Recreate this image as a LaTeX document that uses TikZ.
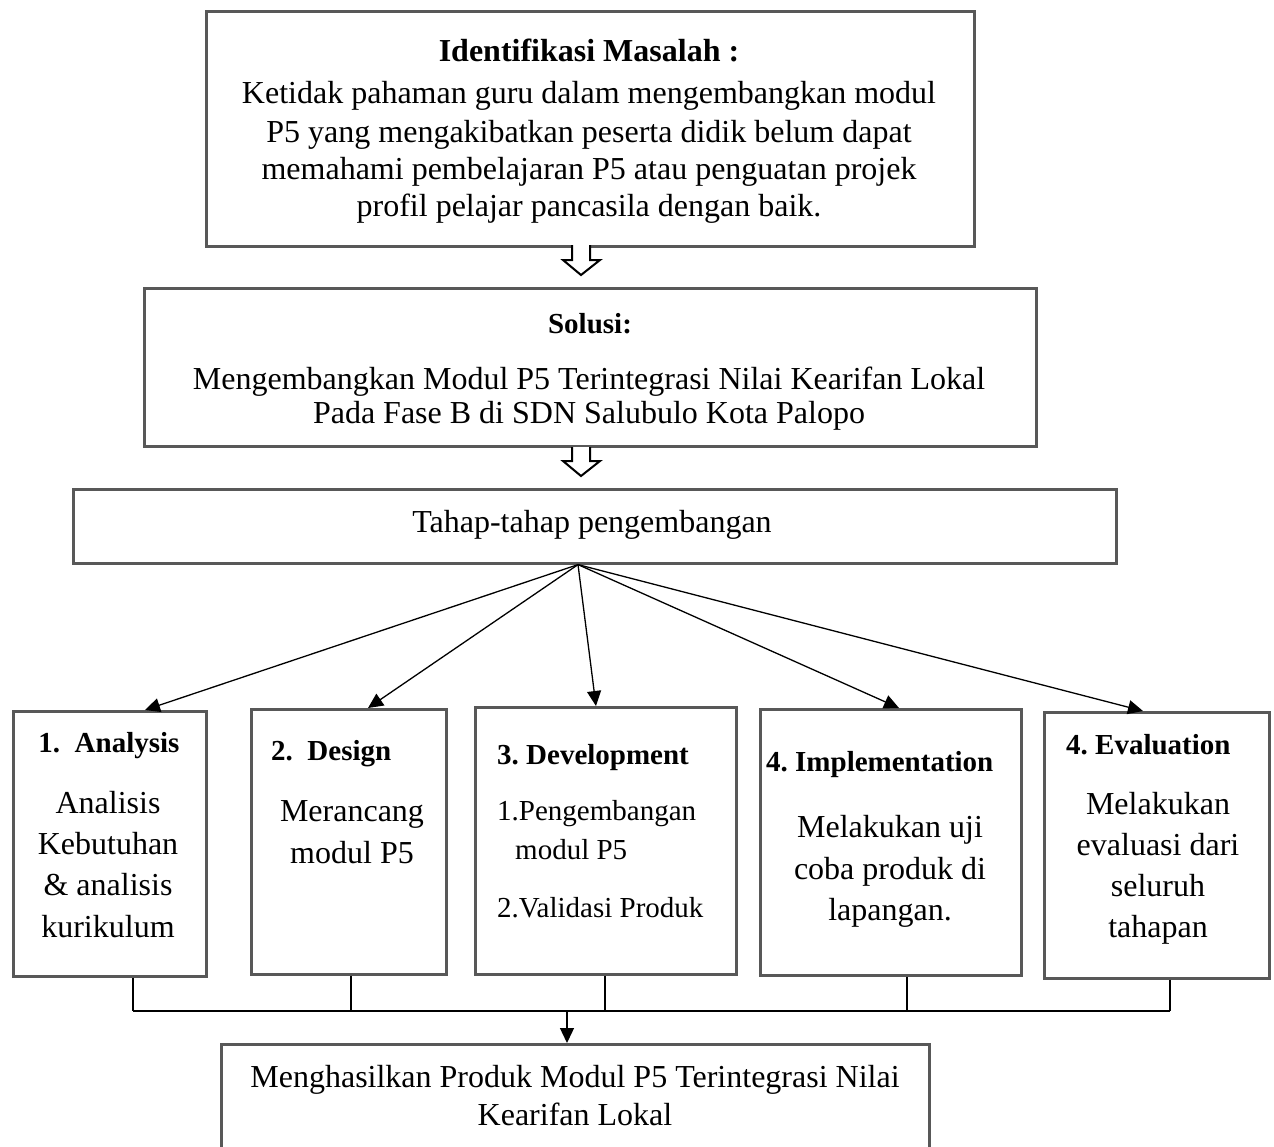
\documentclass[tikz,border=0pt]{standalone}
\usepackage{fontspec}
\setmainfont{Liberation Serif}
\usetikzlibrary{arrows.meta}
\definecolor{boxgray}{RGB}{88,88,88}
\frenchspacing
\begin{document}
\begin{tikzpicture}[x=1pt,y=-1pt,
  box/.style={draw=boxgray, line width=2.6pt, inner sep=0pt, anchor=north west},
  txt/.style={anchor=base, inner sep=0pt, font=\fontsize{32}{38}\selectfont},
  txtl/.style={anchor=base west, inner sep=0pt, font=\fontsize{32}{38}\selectfont},
  head/.style={anchor=base west, inner sep=0pt, font=\fontsize{29}{34}\selectfont\bfseries},
  headc/.style={anchor=base, inner sep=0pt, font=\fontsize{29}{34}\selectfont\bfseries},
  small/.style={anchor=base west, inner sep=0pt, font=\fontsize{29}{34}\selectfont},
  arr/.style={draw=black, line width=1.3pt, -{Triangle[length=15pt,width=14pt]}},
  link/.style={draw=black, line width=1.3pt},
  hollow/.style={draw=black, line width=2pt, fill=white, line join=miter}
]
\clip (0,0) rectangle (1274,1146);
\useasboundingbox (0,0) rectangle (1274,1146);
\fill[white] (0,0) rectangle (1274,1146);

% boxes
\node[box, minimum width=768, minimum height=235] (top) at (205,10) {};
\node[box, minimum width=892, minimum height=158] (sol) at (143,287) {};
\node[box, minimum width=1043, minimum height=74] (tahap) at (72,488) {};
\node[box, minimum width=193, minimum height=265] (a1) at (12,710) {};
\node[box, minimum width=195, minimum height=265] (a2) at (250,708) {};
\node[box, minimum width=261, minimum height=267] (a3) at (474,706) {};
\node[box, minimum width=261, minimum height=266] (a4) at (759,708) {};
\node[box, minimum width=225, minimum height=266] (a5) at (1043,711) {};
\node[box, minimum width=708, minimum height=140] (res) at (220,1043) {};

% hollow arrows
\draw[hollow] (572,245) -- (572,260) -- (563,260) -- (581,275) -- (600,260) -- (590,260) -- (590,245);
\draw[hollow] (572,447) -- (572,461) -- (563,461) -- (581,476) -- (600,461) -- (590,461) -- (590,447);

% top text
\node[txt] (t0) at (589,61) {\bfseries Identifikasi Masalah :};
\node[txt] (t1) at (589,103) {Ketidak pahaman guru dalam mengembangkan modul};
\node[txt] (t2) at (589,142) {P5 yang mengakibatkan peserta didik belum dapat};
\node[txt] (t3) at (589,179) {memahami pembelajaran P5 atau penguatan projek};
\node[txt] (t4) at (589,216) {profil pelajar pancasila dengan baik.};

\node[headc] (s0) at (590,333) {Solusi:};
\node[txt] (s1) at (589,389) {Mengembangkan Modul P5 Terintegrasi Nilai Kearifan Lokal};
\node[txt] (s2) at (589,423) {Pada Fase B di SDN Salubulo Kota Palopo};

\node[txt] (h0) at (592,532) {Tahap-tahap pengembangan};

% fan arrows
\coordinate (fan) at ([xshift=506pt]tahap.south west);
\draw[arr] (fan) -- ([xshift=133pt]a1.north west);
\draw[arr] (fan) -- ([xshift=118pt]a2.north west);
\draw[arr] (fan) -- ([xshift=122pt]a3.north west);
\draw[arr] (fan) -- ([xshift=140pt]a4.north west);
\draw[arr] (fan) -- ([xshift=100pt]a5.north west);

% Analysis
\node[headc] (a1h) at (109,752) {1.\ \ Analysis};
\node[txt] (a1b1) at (108,813) {Analisis};
\node[txt] (a1b2) at (108,854) {Kebutuhan};
\node[txt] (a1b3) at (108,895) {\& analisis};
\node[txt] (a1b4) at (108,937) {kurikulum};

% Design
\node[head] (a2h) at (271,760) {2.\ \ Design};
\node[txt] (a2b1) at (352,821) {Merancang};
\node[txt] (a2b2) at (352,863) {modul P5};

% Development
\node[head] (a3h) at (497,764) {3. Development};
\node[small] (a3b1) at (497,820) {1.Pengembangan};
\node[small] (a3b2) at (515,859) {modul P5};
\node[small] (a3b3) at (497,917) {2.Validasi Produk};

% Implementation
\node[head] (a4h) at (766,771) {4. Implementation};
\node[txt] (a4b1) at (890,837) {Melakukan uji};
\node[txt] (a4b2) at (890,879) {coba produk di};
\node[txt] (a4b3) at (890,920) {lapangan.};

% Evaluation
\node[head] (a5h) at (1066,754) {4. Evaluation};
\node[txt] (a5b1) at (1158,814) {Melakukan};
\node[txt] (a5b2) at (1158,855) {evaluasi dari};
\node[txt] (a5b3) at (1158,896) {seluruh};
\node[txt] (a5b4) at (1158,937) {tahapan};

% bracket
\coordinate (b1) at (133,1011);
\coordinate (b2) at (351,1011);
\coordinate (b3) at (605,1011);
\coordinate (b4) at (907,1011);
\coordinate (b5) at (1170,1011);
\coordinate (bm) at (567,1011);
\draw[link] (b1 |- a1.south) -- (b1);
\draw[link] (b2 |- a2.south) -- (b2);
\draw[link] (b3 |- a3.south) -- (b3);
\draw[link] (b4 |- a4.south) -- (b4);
\draw[link] (b5 |- a5.south) -- (b5);
\draw[link] (b1) -- (b5);
\draw[arr] (bm) -- (bm |- res.north);

% result
\node[txt] (r1) at (575,1087) {Menghasilkan Produk Modul P5 Terintegrasi Nilai};
\node[txt] (r2) at (575,1125) {Kearifan Lokal};
\end{tikzpicture}
\end{document}
